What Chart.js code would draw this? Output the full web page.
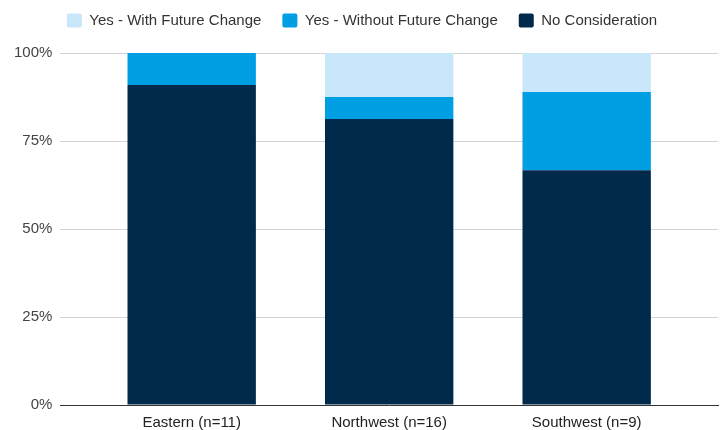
<!DOCTYPE html>
<html>
<head>
<meta charset="utf-8">
<script src="https://cdn.jsdelivr.net/npm/chart.js@4/dist/chart.umd.min.js"></script>
<style>
  html, body { margin: 0; padding: 0; background: #ffffff; }
  #wrap { width: 726px; height: 430px; }
</style>
</head>
<body>
<div id="wrap"><canvas id="c" width="726" height="430"></canvas></div>
<script>
// Data (percent of respondents per region)
const categories = ['Eastern (n=11)', 'Northwest (n=16)', 'Southwest (n=9)'];
const seriesNames = ['No Consideration', 'Yes - Without Future Change', 'Yes - With Future Change'];
const noConsideration = [90.9, 81.25, 66.7];
const yesWithoutChange = [9.1, 6.25, 22.2];
const yesWithChange = [0, 12.5, 11.1];
const yTicks = [0, 25, 50, 75, 100];

const colors = ['#002a4c', '#009fe3', '#c9e7fa'];
const seriesValues = [noConsideration, yesWithoutChange, yesWithChange];

const FONT = "'Liberation Sans', Arial, sans-serif";

const datasets = seriesNames.map((name, s) => ({
  label: name,
  data: seriesValues[s].map((v, i) => ({ x: i, y: v })),
  backgroundColor: colors[s],
  borderWidth: 0,
  barPercentage: 0.65,
  categoryPercentage: 1.0
}));

const legendGap = {
  id: 'legendGap',
  afterInit(chart) {
    const lg = chart.legend;
    if (!lg) return;
    const fit = lg.fit;
    lg.fit = function () { fit.call(this); this.height += 15; };
  }
};

new Chart(document.getElementById('c'), {
  type: 'bar',
  data: { datasets },
  plugins: [legendGap],
  options: {
    responsive: false,
    animation: false,
    layout: { padding: { top: -8, right: 8, bottom: -11, left: 6 } },
    plugins: {
      legend: {
        position: 'top',
        align: 'center',
        reverse: true,
        labels: {
          boxWidth: 15,
          boxHeight: 14,
          padding: 21,
          color: '#333333',
          font: { family: FONT, size: 15 },
          useBorderRadius: true,
          borderRadius: 2
        }
      },
      tooltip: { enabled: false }
    },
    scales: {
      x: {
        type: 'linear',
        stacked: true,
        offset: false,
        min: -0.665,
        max: 2.665,
        afterBuildTicks(axis) {
          axis.ticks = categories.map((_, i) => ({ value: i }));
        },
        ticks: {
          stepSize: 1,
          autoSkip: false,
          maxRotation: 0,
          padding: 9,
          color: '#222222',
          font: { family: FONT, size: 15 },
          callback: (v) => categories[v]
        },
        grid: { display: false, drawTicks: false, offset: false },
        border: { display: true, color: '#333333', width: 1 }
      },
      y: {
        stacked: true,
        min: 0,
        max: 100,
        afterBuildTicks(axis) {
          axis.ticks = yTicks.map(v => ({ value: v }));
        },
        ticks: {
          padding: 8,
          color: '#444444',
          font: { family: FONT, size: 15 },
          callback: (v) => v + '%'
        },
        grid: { color: '#d3d3d3', drawTicks: false },
        border: { display: false }
      }
    }
  }
});
</script>
</body>
</html>
